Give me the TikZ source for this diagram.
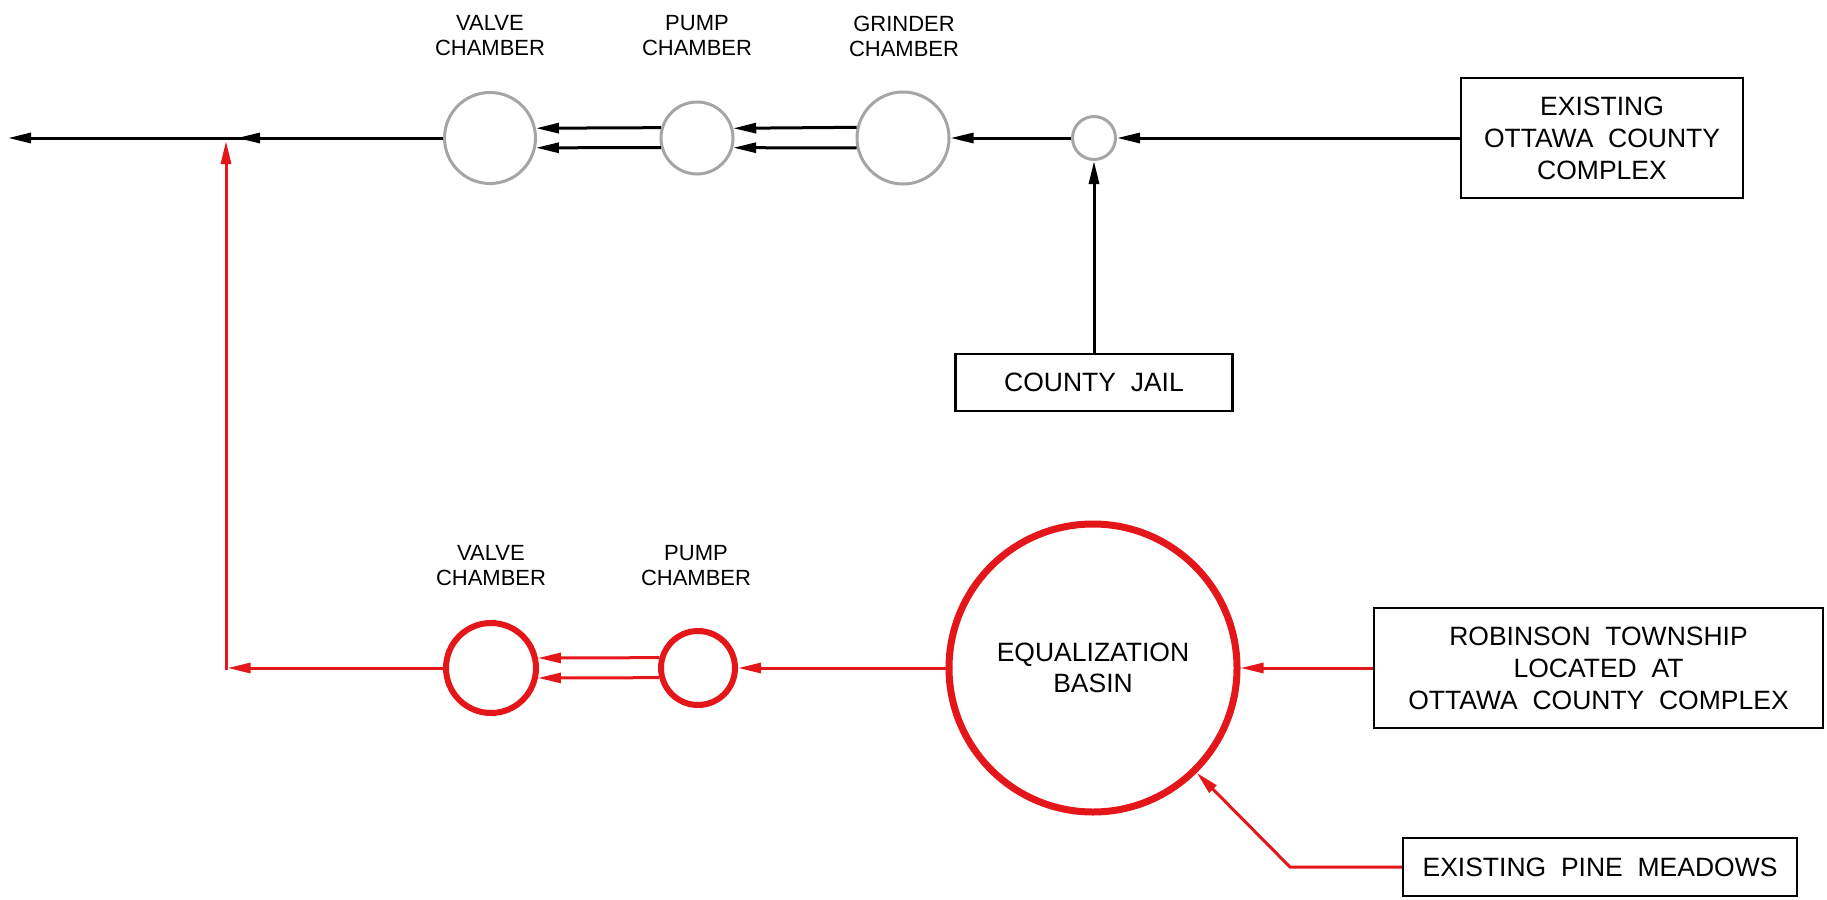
\documentclass[tikz,border=0pt]{standalone}
\usepackage{fontspec}
\setmainfont{Liberation Sans}
\usetikzlibrary{arrows.meta}
\definecolor{pipered}{RGB}{228,22,26}
\definecolor{chgray}{RGB}{165,165,165}
\begin{document}
\begin{tikzpicture}[x=1pt,y=-1pt,
  lbl/.style={font=\fontsize{22}{25}\selectfont, align=center, inner sep=0pt},
  boxtxt/.style={draw=black, line width=2.2pt, font=\fontsize{26.5}{32}\selectfont, align=center, inner sep=0pt},
  graych/.style={circle, draw=chgray, line width=3pt, inner sep=0pt},
  redch/.style={circle, draw=pipered, line width=6pt, inner sep=0pt},
  blk/.style={draw=black, line width=3pt, -{Triangle[length=23pt,width=10pt]}},
  blkplain/.style={draw=black, line width=3pt},
  rd/.style={draw=pipered, line width=3pt, -{Triangle[length=23pt,width=10pt]}},
]
\useasboundingbox (0,0) rectangle (1827,899);

% top row chambers
\node[graych, minimum size=91pt] (tv) at (490,138) {};
\node[graych, minimum size=72pt] (tp) at (697,138) {};
\node[graych, minimum size=92pt] (tg) at (903,138) {};
\node[graych, minimum size=43pt] (sm) at (1094,138) {};

\node[lbl] (ltv) at (490,36) {VALVE\\CHAMBER};
\node[lbl] (ltp) at (697,36) {PUMP\\CHAMBER};
\node[lbl] (ltg) at (904,36) {GRINDER\\CHAMBER};

\node[boxtxt, minimum width=282pt, minimum height=120pt] (eoc) at (1602,138) {EXISTING\\OTTAWA~~COUNTY\\COMPLEX};
\node[boxtxt, minimum width=277pt, minimum height=57pt] (jail) at (1094,382.5) {COUNTY~~JAIL};

\coordinate (J) at (237,138);
\coordinate (Jin) at (250,138);
\coordinate (L) at (8,138);

\draw[blk] (eoc.west) -- (sm.east);
\draw[blk] (jail.north) -- (sm.south);
\draw[blk] (sm.west) -- (tg.east);
\draw[blk] (tg.167.85) -- (tp.15.47);
\draw[blk] (tg.192.15) -- (tp.-15.47);
\draw[blk] (tp.164.53) -- (tv.12.28);
\draw[blk] (tp.195.47) -- (tv.-12.28);
\draw[blk] (tv.west) -- (J);
\draw[blk] (Jin) -- (L);

% bottom row
\node[redch, minimum size=90pt] (bv) at (491,668) {};
\node[redch, minimum size=74pt] (bp) at (698,668) {};
\node[circle, draw=pipered, line width=7pt, inner sep=0pt, minimum size=288pt,
      font=\fontsize{26.5}{31}\selectfont, align=center] (eb) at (1093,668) {EQUALIZATION\\BASIN};

\node[lbl] (lbv) at (491,566) {VALVE\\CHAMBER};
\node[lbl] (lbp) at (696,566) {PUMP\\CHAMBER};

\node[boxtxt, minimum width=449pt, minimum height=120pt] (rob) at (1598.5,668) {ROBINSON~~TOWNSHIP\\LOCATED~~AT\\OTTAWA~~COUNTY~~COMPLEX};
\node[boxtxt, minimum width=394pt, minimum height=58pt] (pine) at (1600,867) {EXISTING~~PINE~~MEADOWS};

\coordinate (Cb) at (227.5,668);
\coordinate (C) at (226,669.5);
\coordinate (Rt) at (226,141);
\coordinate (PC) at (1290,867);

\draw[rd] (rob.west) -- (eb.east);
\draw[rd] (pine.west) -- (PC) -- (eb);
\draw[rd] (eb.west) -- (bp.east);
\draw[rd] (bp.165.52) -- (bv.12.02);
\draw[rd] (bp.194.48) -- (bv.-12.02);
\draw[rd] (bv.west) -- (Cb);
\draw[rd] (C) -- (Rt);
\end{tikzpicture}
\end{document}
